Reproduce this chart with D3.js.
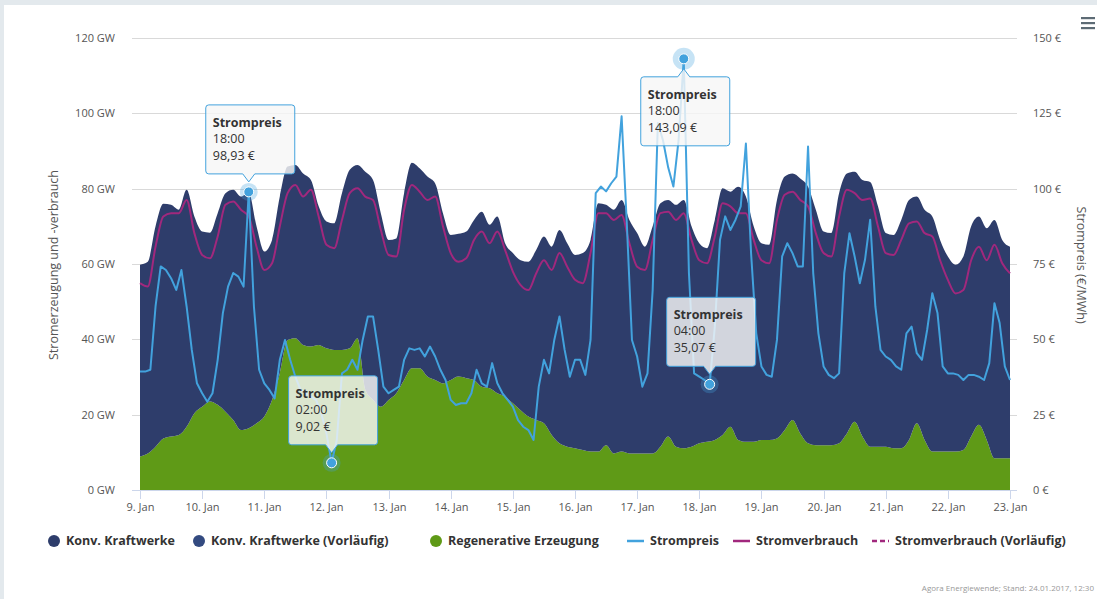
<!DOCTYPE html>
<html lang="de">
<head>
<meta charset="utf-8">
<script src="https://cdn.jsdelivr.net/npm/d3@7/dist/d3.min.js"></script>
<style>
  html, body { margin: 0; padding: 0; background: #e3e9ed; }
  svg { display: block; font-family: "Open Sans", "DejaVu Sans", sans-serif; }
</style>
</head>
<body>
<div id="chart"></div>
<script>
// Zeitachse: 9. Jan 2017 00:00 bis 23. Jan 2017 00:00 (UTC, damit keine Zeitzone reinfunkt)
const START = Date.UTC(2017, 0, 9);
const HOUR = 3600 * 1000;

const dayTicks = ['9. Jan', '10. Jan', '11. Jan', '12. Jan', '13. Jan', '14. Jan', '15. Jan',
  '16. Jan', '17. Jan', '18. Jan', '19. Jan', '20. Jan', '21. Jan', '22. Jan', '23. Jan'];
const gwTicks = [0, 20, 40, 60, 80, 100, 120];
const priceTicks = [0, 25, 50, 75, 100, 125, 150];

// GW, alle 3 Stunden (8 Werte je Tag + Endpunkt)
const regenerativ = [
  8.9, 9.7, 11.5, 13.7, 14.2, 14.6, 16.8, 20.4,
  22.1, 23.5, 22.6, 20.8, 18.6, 15.9, 16.4, 17.7,
  19.5, 23.9, 31.0, 39.8, 40.3, 38.5, 38.1, 38.5,
  37.6, 37.2, 37.2, 37.6, 40.3, 26.6, 23.9, 22.1,
  23.9, 25.7, 29.2, 32.3, 32.3, 30.1, 29.2, 28.3,
  29.2, 30.1, 29.7, 29.2, 27.4, 27.0, 25.7, 24.8,
  23.0, 21.2, 19.5, 18.6, 17.7, 14.6, 12.4, 11.5,
  11.1, 10.6, 10.2, 10.2, 11.9, 9.7, 10.2, 9.7,
  9.7, 9.7, 9.7, 11.5, 14.2, 11.5, 11.1, 11.5,
  12.4, 12.8, 13.3, 14.6, 16.8, 13.3, 12.8, 12.8,
  13.3, 13.3, 13.7, 15.9, 18.6, 15.0, 12.4, 11.9,
  11.9, 11.9, 12.4, 15.0, 18.1, 14.2, 11.5, 11.5,
  11.5, 11.1, 11.1, 13.3, 17.7, 13.3, 10.2, 10.2,
  10.2, 10.2, 10.6, 14.2, 17.3, 13.3, 8.4, 8.4,
  8.4
];
const konvKraftwerke = [
  50.9, 50.9, 58.5, 62.3, 61.5, 59.8, 62.9, 52.2,
  46.5, 44.8, 50.9, 58.0, 61.1, 62.0, 62.6, 52.3,
  43.8, 42.5, 46.9, 46.1, 46.0, 45.5, 44.2, 36.8,
  33.7, 33.6, 41.6, 47.4, 46.0, 57.9, 58.4, 51.4,
  42.5, 41.1, 49.6, 54.6, 53.1, 53.1, 52.2, 45.2,
  38.5, 37.9, 38.9, 42.5, 46.5, 43.4, 46.9, 40.7,
  39.9, 39.8, 41.1, 45.1, 49.6, 50.0, 56.6, 54.0,
  51.3, 52.3, 56.2, 65.9, 63.8, 64.7, 66.8, 62.0,
  58.5, 54.9, 60.3, 64.6, 62.8, 64.2, 65.9, 58.5,
  53.1, 51.4, 58.4, 65.5, 62.4, 67.2, 65.1, 57.2,
  52.2, 51.8, 63.3, 67.3, 65.4, 67.7, 68.1, 62.5,
  56.7, 56.3, 66.4, 69.0, 66.4, 68.1, 70.3, 63.8,
  56.7, 56.6, 60.6, 63.7, 60.2, 61.1, 62.4, 56.2,
  51.8, 49.6, 51.4, 55.8, 55.3, 56.2, 63.3, 58.0,
  56.2
];
const stromverbrauch = [
  54.9, 54.0, 64.6, 72.6, 73.5, 73.5, 77.0, 68.2,
  62.4, 61.5, 67.3, 75.7, 76.6, 74.4, 72.6, 64.6,
  58.4, 60.2, 70.0, 78.8, 81.0, 77.9, 79.7, 72.6,
  65.1, 64.2, 71.7, 78.8, 80.1, 77.9, 77.0, 69.1,
  62.4, 62.0, 74.4, 81.0, 79.2, 77.0, 77.9, 70.0,
  62.9, 60.6, 61.5, 66.4, 68.6, 65.5, 68.6, 63.7,
  58.0, 54.4, 53.1, 57.5, 61.0, 58.4, 62.9, 59.3,
  55.8, 54.9, 62.9, 73.5, 73.5, 71.7, 73.0, 65.5,
  59.3, 58.4, 66.4, 73.5, 73.9, 71.7, 73.5, 66.4,
  61.0, 60.2, 67.3, 76.1, 75.3, 73.5, 73.5, 66.4,
  61.0, 60.2, 71.7, 78.4, 79.2, 77.0, 75.3, 68.2,
  62.9, 62.0, 72.6, 79.7, 78.8, 77.0, 77.4, 70.0,
  62.9, 62.4, 66.4, 70.8, 71.3, 68.2, 67.3, 61.0,
  55.8, 52.2, 53.1, 61.0, 64.6, 61.0, 65.1, 60.2,
  57.5
];

// €/MWh, alle 2 Stunden (12 Werte je Tag + Endpunkt)
const strompreis = [
  39.3, 39.3, 39.9, 60.9, 74.2, 73.0, 70.3, 66.4, 73.0, 60.9, 46.5, 35.4,
  32.1, 29.3, 32.1, 43.2, 58.7, 67.5, 72.0, 70.8, 67.5, 98.93, 60.9, 39.9,
  35.4, 33.2, 30.4, 43.2, 49.8, 43.2, 37.6, 33.2, 32.1, 31.0, 29.9, 25.5,
  18.8, 9.02, 16.6, 38.7, 39.9, 43.2, 39.9, 49.8, 57.6, 57.6, 46.5, 34.3,
  32.1, 33.2, 34.3, 43.2, 47.0, 46.5, 47.0, 44.3, 47.6, 44.3, 39.9, 36.5,
  29.9, 28.2, 28.8, 28.8, 32.1, 39.9, 35.4, 34.3, 42.1, 35.4, 32.1, 29.9,
  27.7, 23.2, 21.0, 19.9, 16.6, 34.3, 43.2, 38.7, 49.8, 57.6, 46.5, 37.6,
  43.2, 43.2, 38.2, 49.8, 98.5, 100.7, 99.1, 101.8, 104.0, 124.0, 88.6, 49.8,
  44.3, 34.3, 38.7, 66.4, 121.8, 116.0, 107.0, 100.7, 116.0, 143.09, 72.0, 38.7,
  37.6, 36.5, 35.07, 54.2, 83.0, 90.8, 86.3, 89.7, 94.1, 115.0, 78.6, 52.0,
  41.0, 38.2, 37.6, 49.8, 77.5, 81.9, 78.6, 74.2, 74.2, 114.0, 72.0, 52.0,
  41.0, 38.2, 37.1, 38.7, 72.0, 85.2, 77.5, 68.6, 76.4, 89.7, 60.9, 46.5,
  44.3, 43.2, 41.0, 39.9, 52.0, 54.2, 45.4, 43.2, 53.1, 65.3, 58.7, 41.0,
  38.7, 38.7, 38.2, 36.5, 38.2, 38.2, 37.6, 36.5, 42.1, 62.0, 55.4, 41.0,
  36.5
];

// Punkte im Preis-Array, an denen ein Tooltip steht
const tooltipIndices = [21, 105, 37, 110];

const legendNames = ['Konv. Kraftwerke', 'Konv. Kraftwerke (Vorläufig)', 'Regenerative Erzeugung',
  'Strompreis', 'Stromverbrauch', 'Stromverbrauch (Vorläufig)'];
const sourceText = 'Agora Energiewende; Stand: 24.01.2017, 12:30';

// ---- Layout / Farben ----
const W = 1097, H = 599;
const plot = { left: 140, right: 1010, top: 38, bottom: 490 };
const colors = {
  konv: '#2e3d6b',
  konvVorl: '#334a80',
  regen: '#5f9a17',
  preis: '#42a2dd',
  verbrauch: '#a1287d',
  grid: '#d9d9d9',
  label: '#555',
};

const svg = d3.select('#chart').append('svg')
  .attr('width', W)
  .attr('height', H);

svg.append('rect').attr('width', W).attr('height', H).attr('fill', '#e3e9ed');
svg.append('rect').attr('x', 4).attr('y', 5).attr('width', W - 4).attr('height', H - 5).attr('fill', '#fff');

const x = d3.scaleUtc()
  .domain([START, START + 14 * 24 * HOUR])
  .range([plot.left, plot.right]);
const y = d3.scaleLinear().domain([0, 120]).range([plot.bottom, plot.top]);
const yPrice = d3.scaleLinear().domain([0, 150]).range([plot.bottom, plot.top]);

// Gitterlinien + Achsenbeschriftung links (GW) und rechts (€)
const grid = svg.append('g').attr('class', 'grid');
grid.selectAll('line')
  .data(gwTicks)
  .join('line')
  .attr('x1', plot.left - 8)
  .attr('x2', plot.right + 7)
  .attr('y1', d => Math.round(y(d)) + 0.5)
  .attr('y2', d => Math.round(y(d)) + 0.5)
  .attr('stroke', d => d === 0 ? '#ccd6eb' : colors.grid);

svg.append('g')
  .selectAll('text')
  .data(gwTicks)
  .join('text')
  .attr('x', 115)
  .attr('y', d => y(d))
  .attr('dy', '0.35em')
  .attr('text-anchor', 'end')
  .attr('font-size', 11)
  .attr('fill', colors.label)
  .text(d => `${d} GW`);

svg.append('g')
  .selectAll('text')
  .data(priceTicks)
  .join('text')
  .attr('x', 1033)
  .attr('y', d => yPrice(d))
  .attr('dy', '0.35em')
  .attr('font-size', 11)
  .attr('fill', colors.label)
  .text(d => `${d} €`);

svg.append('text')
  .attr('transform', 'translate(58, 265) rotate(-90)')
  .attr('text-anchor', 'middle')
  .attr('font-size', 12.5)
  .attr('fill', colors.label)
  .text('Stromerzeugung und -verbrauch');

svg.append('text')
  .attr('transform', 'translate(1077, 265) rotate(90)')
  .attr('text-anchor', 'middle')
  .attr('font-size', 12.5)
  .attr('fill', colors.label)
  .text('Strompreis (€/MWh)');

// Gestapelte Flächen: Regenerative unten, Konventionelle oben drauf
const rows = regenerativ.map((r, i) => ({
  t: START + i * 3 * HOUR,
  regen: r,
  konv: konvKraftwerke[i],
}));
const stacked = d3.stack().keys(['regen', 'konv'])(rows);

const area = d3.area()
  .curve(d3.curveMonotoneX)
  .x(d => x(d.data.t))
  .y0(d => y(d[0]))
  .y1(d => y(d[1]));

svg.append('g')
  .selectAll('path')
  .data(stacked)
  .join('path')
  .attr('d', area)
  .attr('fill', d => d.key === 'regen' ? colors.regen : colors.konv);

// X-Achse mit Tagesticks
const xTicks = svg.append('g');
dayTicks.forEach((label, i) => {
  const tx = Math.round(x(START + i * 24 * HOUR)) + 0.5;
  xTicks.append('line')
    .attr('x1', tx).attr('x2', tx)
    .attr('y1', plot.bottom).attr('y2', plot.bottom + 9)
    .attr('stroke', '#ccd6eb');
  xTicks.append('text')
    .attr('x', tx)
    .attr('y', plot.bottom + 21)
    .attr('text-anchor', 'middle')
    .attr('font-size', 11)
    .attr('fill', colors.label)
    .text(label);
});

// Linien
const verbrauchLine = d3.line()
  .curve(d3.curveMonotoneX)
  .x((d, i) => x(START + i * 3 * HOUR))
  .y(d => y(d));

svg.append('path')
  .datum(stromverbrauch)
  .attr('d', verbrauchLine)
  .attr('fill', 'none')
  .attr('stroke', colors.verbrauch)
  .attr('stroke-width', 2);

const preisX = i => x(START + i * 2 * HOUR);
const preisLine = d3.line()
  .x((d, i) => preisX(i))
  .y(d => yPrice(d));

svg.append('path')
  .datum(strompreis)
  .attr('d', preisLine)
  .attr('fill', 'none')
  .attr('stroke', colors.preis)
  .attr('stroke-width', 2)
  .attr('stroke-linejoin', 'round');

// Tooltips im Highcharts-Stil (Box mit Spitze zum Punkt)
function calloutPath(bx, by, w, h, ax, below) {
  const r = 3, a = 6;
  if (below) {
    // Spitze oben
    return `M${bx + r},${by} L${ax - a},${by} L${ax},${by - 8} L${ax + a},${by} L${bx + w - r},${by}
      Q${bx + w},${by} ${bx + w},${by + r} L${bx + w},${by + h - r} Q${bx + w},${by + h} ${bx + w - r},${by + h}
      L${bx + r},${by + h} Q${bx},${by + h} ${bx},${by + h - r} L${bx},${by + r} Q${bx},${by} ${bx + r},${by} Z`;
  }
  return `M${bx + r},${by} L${bx + w - r},${by} Q${bx + w},${by} ${bx + w},${by + r} L${bx + w},${by + h - r}
    Q${bx + w},${by + h} ${bx + w - r},${by + h} L${ax + a},${by + h} L${ax},${by + h + 8} L${ax - a},${by + h}
    L${bx + r},${by + h} Q${bx},${by + h} ${bx},${by + h - r} L${bx},${by + r} Q${bx},${by} ${bx + r},${by} Z`;
}

const fmtPreis = v => v.toFixed(2).replace('.', ',') + ' €';
const fmtTime = i => d3.utcFormat('%H:%M')(new Date(START + i * 2 * HOUR));

const tipW = 89, tipH = 69, tipGap = 18;
const tips = svg.append('g');
tooltipIndices.forEach(i => {
  const mx = preisX(i);
  const my = yPrice(strompreis[i]);
  const below = my - tipGap - tipH < plot.top;
  const bx = mx - 43;
  const by = below ? my + tipGap : my - tipGap - tipH;

  tips.append('circle')
    .attr('cx', mx).attr('cy', my).attr('r', below ? 11 : 9)
    .attr('fill', colors.preis).attr('opacity', 0.3);
  tips.append('circle')
    .attr('cx', mx).attr('cy', my).attr('r', 5)
    .attr('fill', colors.preis).attr('stroke', '#fff').attr('stroke-width', 1);

  tips.append('path')
    .attr('d', calloutPath(bx, by, tipW, tipH, mx, below))
    .attr('fill', 'rgba(247,247,247,0.82)')
    .attr('stroke', colors.preis)
    .attr('stroke-width', 1);

  const t = tips.append('text')
    .attr('font-size', 12.5)
    .attr('fill', '#333');
  t.append('tspan').attr('x', bx + 7).attr('y', by + 22).attr('font-weight', 'bold').text('Strompreis');
  t.append('tspan').attr('x', bx + 7).attr('y', by + 38).text(fmtTime(i));
  t.append('tspan').attr('x', bx + 7).attr('y', by + 55).text(fmtPreis(strompreis[i]));
});

// Legende
const legendX = [54, 199, 436, 627, 733, 872];
const legendSymbols = ['dot', 'dot', 'dot', 'line', 'line', 'dash'];
const legendColors = [colors.konv, colors.konvVorl, colors.regen, colors.preis, colors.verbrauch, colors.verbrauch];
const legendY = 541;
const legend = svg.append('g');
legendNames.forEach((name, i) => {
  const lx = legendX[i];
  let textX;
  if (legendSymbols[i] === 'dot') {
    legend.append('circle').attr('cx', lx).attr('cy', legendY).attr('r', 6).attr('fill', legendColors[i]);
    textX = lx + 12;
  } else {
    legend.append('line')
      .attr('x1', lx).attr('x2', lx + 17)
      .attr('y1', legendY).attr('y2', legendY)
      .attr('stroke', legendColors[i])
      .attr('stroke-width', 2.5)
      .attr('stroke-dasharray', legendSymbols[i] === 'dash' ? '5,3' : null);
    textX = lx + 23;
  }
  legend.append('text')
    .attr('x', textX)
    .attr('y', legendY)
    .attr('dy', '0.35em')
    .attr('font-size', 12.5)
    .attr('font-weight', 'bold')
    .attr('fill', '#333')
    .text(name);
});

svg.append('text')
  .attr('x', 1094)
  .attr('y', 591)
  .attr('text-anchor', 'end')
  .attr('font-size', 8)
  .attr('fill', '#999')
  .text(sourceText);

// Menü-Symbol oben rechts
svg.append('g')
  .selectAll('rect')
  .data([0, 1, 2])
  .join('rect')
  .attr('x', 1081)
  .attr('y', d => 17 + d * 5)
  .attr('width', 14)
  .attr('height', 2.2)
  .attr('fill', '#5d6b75');
</script>
</body>
</html>
